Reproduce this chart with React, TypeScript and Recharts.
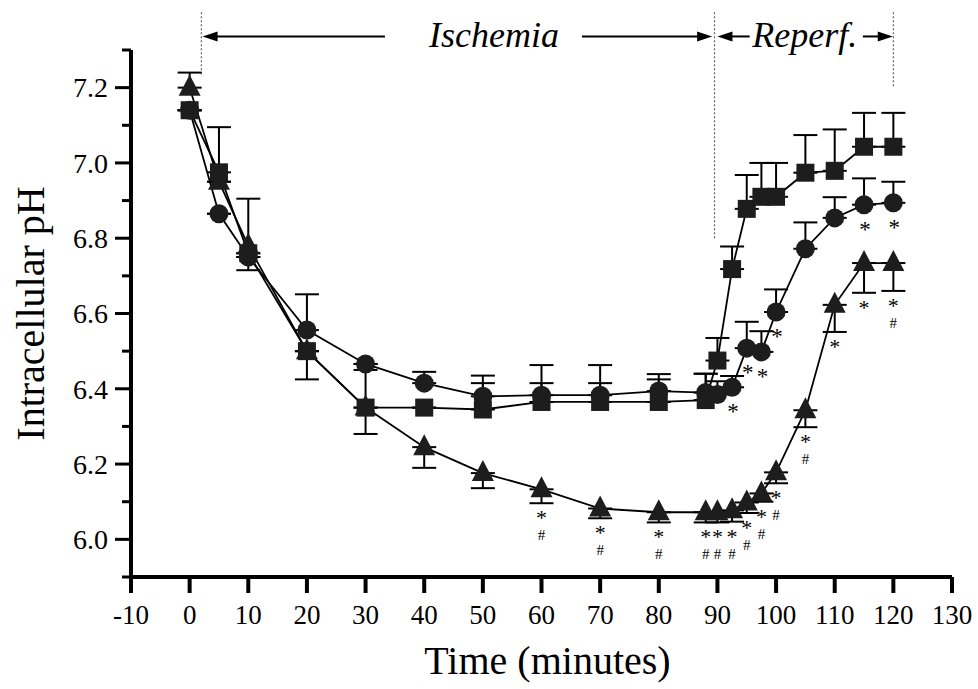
import React from "react";
import {
  ComposedChart,
  Line,
  XAxis,
  YAxis,
  ErrorBar,
  ReferenceLine,
  ReferenceDot,
} from "recharts";

// sampling times (minutes)
const times = [0, 5, 10, 20, 30, 40, 50, 60, 70, 80, 88, 90, 92.5, 95, 97.5, 100, 105, 110, 115, 120];

// squares
const sqVals = [7.14, 6.975, 6.76, 6.5, 6.35, 6.35, 6.345, 6.365, 6.365, 6.365, 6.37, 6.475, 6.718, 6.878, 6.91, 6.91, 6.974, 6.979, 7.043, 7.043];
const sqUp = [0, 0.12, 0, 0, 0.1, 0, 0.07, 0.05, 0.05, 0.06, 0.07, 0.06, 0.06, 0.09, 0.09, 0.09, 0.1, 0.11, 0.09, 0.09];
const sqDown = [0, 0, 0, 0.075, 0.07, 0, 0, 0, 0, 0, 0, 0, 0, 0, 0, 0, 0, 0, 0, 0];

// circles
const circVals = [7.14, 6.865, 6.75, 6.556, 6.466, 6.415, 6.38, 6.383, 6.383, 6.394, 6.39, 6.385, 6.404, 6.508, 6.498, 6.604, 6.772, 6.854, 6.889, 6.894];
const circUp = [0, 0, 0, 0.095, 0, 0.03, 0.055, 0.08, 0.08, 0.045, 0.05, 0.035, 0.03, 0.07, 0.055, 0.06, 0.07, 0.055, 0.07, 0.056];
const circMarks = ["", "", "", "", "", "", "", "", "", "", "", "", "*", "*", "*", "*", "", "", "*", "*"];

// triangles
const triVals = [7.2, 6.95, 6.78, 6.5, 6.35, 6.245, 6.176, 6.133, 6.082, 6.072, 6.072, 6.072, 6.077, 6.098, 6.122, 6.178, 6.343, 6.623, 6.734, 6.734];
const triUp = [0.04, 0, 0.125, 0, 0, 0, 0, 0, 0, 0, 0, 0, 0, 0, 0, 0, 0, 0, 0, 0];
const triDown = [0, 0, 0.065, 0, 0, 0.055, 0.04, 0.037, 0.026, 0.027, 0.027, 0.027, 0.03, 0.028, 0.022, 0.029, 0.045, 0.072, 0.079, 0.074];
const triMarks = ["", "", "", "", "", "", "", "*#", "*#", "*#", "*#", "*#", "*#", "*#", "*#", "*#", "*#", "*", "*", "*#"];

const xTicks = [-10, 0, 10, 20, 30, 40, 50, 60, 70, 80, 90, 100, 110, 120, 130];
const yTicks = [5.9, 6.0, 6.1, 6.2, 6.3, 6.4, 6.5, 6.6, 6.7, 6.8, 6.9, 7.0, 7.1, 7.2, 7.3];

const data = times.map((t, i) => ({
  t,
  sq: sqVals[i],
  sqErr: [sqDown[i], sqUp[i]],
  circ: circVals[i],
  circErr: [0, circUp[i]],
  tri: triVals[i],
  triErr: [triDown[i], triUp[i]],
  triCap: triVals[i] - triDown[i],
}));

const FONT = "'Liberation Serif', 'Times New Roman', serif";
const FILL = "#1d1d1d";

const SquareDot = (p: any) => (
  <rect key={`s${p.index}`} x={p.cx - 9} y={p.cy - 9} width={18} height={18} fill={FILL} />
);

const CircleDot = (p: any) => (
  <g key={`c${p.index}`}>
    <circle cx={p.cx} cy={p.cy} r={9.5} fill={FILL} />
    {circMarks[p.index] && (
      <text x={p.cx + 1} y={p.cy + 32} textAnchor="middle" fontFamily={FONT} fontSize={23} fill="#000" opacity={0.99}>
        *
      </text>
    )}
  </g>
);

const TriDot = (p: any) => (
  <polygon
    key={`t${p.index}`}
    points={`${p.cx},${p.cy - 13} ${p.cx - 11},${p.cy + 8} ${p.cx + 11},${p.cy + 8}`}
    fill={FILL}
  />
);

const TriMark = (p: any) => {
  const m = triMarks[p.index];
  if (!m) return <g key={`m${p.index}`} />;
  return (
    <g key={`m${p.index}`} fontFamily={FONT} textAnchor="middle" fill="#000" opacity={0.99}>
      <text x={p.cx} y={p.cy + 22} fontSize={22}>*</text>
      {m.includes("#") && (
        <text x={p.cx} y={p.cy + 37} fontSize={15}>#</text>
      )}
    </g>
  );
};

const YTick = (p: any) => {
  const v = p.payload.value;
  const major = Math.round(v * 10) % 2 === 0;
  return (
    <g>
      <line x1={p.x - (major ? 16 : 9)} x2={p.x} y1={p.y} y2={p.y} stroke="#000" strokeWidth={3} />
      {major && (
        <text x={p.x - 23} y={p.y} dy="0.35em" textAnchor="end" fontFamily={FONT} fontSize={28} fill="#000">
          {v.toFixed(1)}
        </text>
      )}
    </g>
  );
};

const Arrow = (p: any) => {
  const { x1, y1, x2, y2 } = p;
  const dir = x2 > x1 ? 1 : -1;
  return (
    <g>
      <line x1={x1} y1={y1} x2={x2 - dir * 10} y2={y2} stroke="#000" strokeWidth={2} />
      <polygon
        points={`${x2},${y2} ${x2 - dir * 15},${y2 - 5} ${x2 - dir * 15},${y2 + 5}`}
        fill="#000"
      />
    </g>
  );
};

const Dotted = (p: any) => (
  <line x1={p.x1} y1={p.y1} x2={p.x2} y2={p.y2} stroke="#666" strokeWidth={1.2} strokeDasharray="2 2" />
);

const Title = (text: string) => (p: any) => (
  <text x={p.cx} y={p.cy} dy="0.3em" textAnchor="middle" fontFamily={FONT} fontStyle="italic" fontSize={36} fill="#000">
    {text}
  </text>
);

export default function App() {
  return (
    <div style={{ position: "absolute", left: 0, top: 0, background: "#fff" }}>
      <ComposedChart
        width={978}
        height={689}
        data={data}
        margin={{ top: 50, right: 26, bottom: 42, left: 20 }}
      >
        <XAxis
          dataKey="t"
          type="number"
          domain={[-10, 130]}
          ticks={xTicks}
          interval={0}
          allowDataOverflow
          axisLine={{ stroke: "#000", strokeWidth: 4 }}
          tickLine={{ stroke: "#000", strokeWidth: 4 }}
          tickSize={16}
          tickMargin={12}
          height={70}
          tick={{ fill: "#000", fontFamily: FONT, fontSize: 27 }}
          label={{
            value: "Time (minutes)",
            position: "insideBottom",
            offset: -27,
            dx: 6,
            fill: "#000",
            fontFamily: FONT,
            fontSize: 40,
          }}
        />
        <YAxis
          type="number"
          domain={[5.9, 7.3]}
          ticks={yTicks}
          interval={0}
          allowDataOverflow
          width={111}
          axisLine={{ stroke: "#000", strokeWidth: 4 }}
          tickLine={false}
          tickSize={0}
          tickMargin={0}
          tick={<YTick />}
          label={{
            value: "Intracellular pH",
            angle: -90,
            position: "insideLeft",
            offset: 10,
            style: { textAnchor: "middle" },
            fill: "#000",
            fontFamily: FONT,
            fontSize: 40,
          }}
        />

        <ReferenceLine segment={[{ x: 2, y: 7.4 }, { x: 2, y: 7.23 }]} ifOverflow="visible" shape={Dotted} />
        <ReferenceLine segment={[{ x: 89.5, y: 7.4 }, { x: 89.5, y: 6.8 }]} ifOverflow="visible" shape={Dotted} />
        <ReferenceLine segment={[{ x: 120, y: 7.4 }, { x: 120, y: 7.2 }]} ifOverflow="visible" shape={Dotted} />

        <ReferenceLine segment={[{ x: 33.3, y: 7.336 }, { x: 2.2, y: 7.336 }]} ifOverflow="visible" shape={Arrow} />
        <ReferenceLine segment={[{ x: 66.9, y: 7.336 }, { x: 89.1, y: 7.336 }]} ifOverflow="visible" shape={Arrow} />
        <ReferenceLine segment={[{ x: 95.5, y: 7.336 }, { x: 90.0, y: 7.336 }]} ifOverflow="visible" shape={Arrow} />
        <ReferenceLine segment={[{ x: 114.8, y: 7.336 }, { x: 119.9, y: 7.336 }]} ifOverflow="visible" shape={Arrow} />
        <ReferenceDot x={51.9} y={7.336} r={0} ifOverflow="visible" shape={Title("Ischemia")} />
        <ReferenceDot x={104.9} y={7.336} r={0} ifOverflow="visible" shape={Title("Reperf.")} />

        <Line
          dataKey="circ"
          stroke="#000"
          strokeWidth={1.8}
          dot={CircleDot}
          activeDot={false}
          isAnimationActive={false}
        >
          <ErrorBar dataKey="circErr" width={12} stroke="#000" strokeWidth={2} direction="y" />
        </Line>
        <Line
          dataKey="tri"
          stroke="#000"
          strokeWidth={1.8}
          dot={TriDot}
          activeDot={false}
          isAnimationActive={false}
        >
          <ErrorBar dataKey="triErr" width={12} stroke="#000" strokeWidth={2} direction="y" />
        </Line>
        <Line
          dataKey="sq"
          stroke="#000"
          strokeWidth={1.8}
          dot={SquareDot}
          activeDot={false}
          isAnimationActive={false}
        >
          <ErrorBar dataKey="sqErr" width={12} stroke="#000" strokeWidth={2} direction="y" />
        </Line>
        <Line
          dataKey="triCap"
          stroke="none"
          dot={TriMark}
          activeDot={false}
          legendType="none"
          isAnimationActive={false}
        />
      </ComposedChart>
    </div>
  );
}
